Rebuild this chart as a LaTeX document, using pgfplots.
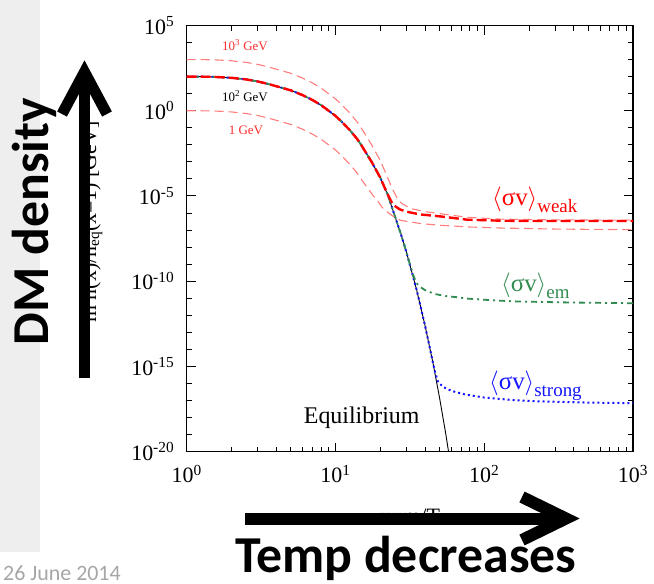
\documentclass[border=0pt]{standalone}
\usepackage{pgfplots}
\pgfplotsset{compat=1.18}
\usepackage{fontspec}
\setmainfont{Liberation Serif}
\newfontfamily\calibri{Carlito}
\definecolor{emgreen}{RGB}{50,140,80}
\definecolor{lightred}{RGB}{255,125,125}
\definecolor{labred}{RGB}{255,45,45}
\definecolor{strongblue}{RGB}{20,20,255}
\newcommand\sv[1]{{\fontsize{25}{25}\selectfont$\langle$σv$\rangle$}{\fontsize{19}{19}\selectfont\raisebox{-7bp}{#1}}}
\begin{document}
\begin{tikzpicture}
\useasboundingbox (0,0) rectangle (654bp,-584bp);
\fill[gray!13] (0,0) rectangle (40bp,-552bp);
\begin{axis}[
  at={(186.7bp,-451.7bp)}, anchor=south west,
  scale only axis, width=446.3bp, height=426.2bp,
  xmode=log, ymode=log, xmin=1, xmax=1000, ymin=1e-20, ymax=1e5,
  axis line style={line width=1.5bp},
  every tick/.style={black, line width=1bp},
  major tick length=9bp, minor tick length=5bp,
  tick align=inside, xtick pos=both, ytick pos=both,
  xticklabel pos=lower, yticklabel pos=left,
  xtick={1,10,100,1000},
  xticklabels={10\textsuperscript{0},10\textsuperscript{1},10\textsuperscript{2},10\textsuperscript{3}},
  minor xtick={2,3,4,5,6,7,8,9,20,30,40,50,60,70,80,90,200,300,400,500,600,700,800,900},
  ytick={1e-20,1e-15,1e-10,1e-5,1,1e5},
  yticklabels={10\textsuperscript{-20},10\textsuperscript{-15},10\textsuperscript{-10},10\textsuperscript{-5},10\textsuperscript{0},10\textsuperscript{5}},
  minor ytick={1e-19,1e-18,1e-17,1e-16,1e-14,1e-13,1e-12,1e-11,1e-9,1e-8,1e-7,1e-6,1e-4,1e-3,1e-2,1e-1,1e1,1e2,1e3,1e4},
  ticklabel style={font=\fontsize{22}{22}\selectfont},
  yticklabel style={xshift=-9bp},
  xticklabel style={yshift=-10bp},
  clip=true,
]
% equilibrium
\addplot[black, line width=0.9bp] coordinates {
(1,100) (1.25,99.5) (1.5,97.7) (1.75,91.2) (2,85.1) (2.5,69.2) (3,52.5) (3.5,38.0) (4,27.5) (5,15.8) (6,8.32) (7,4.27) (8,2.14) (10,0.501) (11,0.229) (12.5,7.24e-2) (14,2.19e-2) (15,8.91e-3) (17.5,1.00e-3) (20,1.20e-4) (22.5,1.12e-5) (25,7.08e-7) (27.5,6.03e-8) (30,5.01e-9) (35,3.55e-11) (40,2.51e-13) (45,2.00e-15) (50,1.58e-17) (55,1.26e-19) (60,1e-21)};
% strong
\addplot[strongblue, line width=2bp, dash pattern=on 2bp off 3bp] coordinates {
(1,100) (1.25,99.5) (1.5,97.7) (1.75,91.2) (2,85.1) (2.5,69.2) (3,52.5) (3.5,38.0) (4,27.5) (5,15.8) (6,8.32) (7,4.27) (8,2.14) (10,0.501) (11,0.229) (12.5,7.24e-2) (14,2.19e-2) (15,8.91e-3) (17.5,1.00e-3) (20,1.20e-4) (22.5,1.12e-5) (25,7.08e-7) (27.5,6.03e-8) (30,5.01e-9) (35,3.55e-11) (40,2.51e-13) (45,2.00e-15) (47,3.8e-16) (49,1.2e-16) (53,6.31e-17) (60,3.72e-17) (75,2.24e-17) (100,1.51e-17) (150,1.10e-17) (217,9.12e-18) (500,7.59e-18) (1000,7.08e-18)};
% em
\addplot[emgreen, line width=1.8bp, dash pattern=on 6bp off 4bp on 2bp off 4bp] coordinates {
(1,100) (1.25,99.5) (1.5,97.7) (1.75,91.2) (2,85.1) (2.5,69.2) (3,52.5) (3.5,38.0) (4,27.5) (5,15.8) (6,8.32) (7,4.27) (8,2.14) (10,0.501) (11,0.229) (12.5,7.24e-2) (14,2.19e-2) (15,8.91e-3) (17.5,1.00e-3) (20,1.20e-4) (22.5,1.12e-5) (25,7.08e-7) (27.5,6.03e-8) (30,5.01e-9) (33,2.82e-10) (35,7.94e-11) (37,4.68e-11) (40,3.02e-11) (46,1.82e-11) (55,1.35e-11) (66,1.15e-11) (77,9.55e-12) (120,7.41e-12) (168,6.46e-12) (400,5.62e-12) (1000,5.13e-12)};
% 1000 GeV
\addplot[lightred, line width=1.1bp, dash pattern=on 9bp off 5bp] coordinates {
(1,1000) (1.25,995) (1.5,977) (1.75,912) (2,851) (2.5,692) (3,525) (3.5,380) (4,275) (5,158) (6,83.2) (7,42.7) (8,21.4) (10,5.01) (11,2.29) (12.5,0.724) (14,0.219) (15,8.91e-2) (17.5,1.00e-2) (20,1.20e-3) (22.5,1.12e-4) (24,2.82e-5) (26,7.59e-6) (28,3.55e-6) (32,1.82e-6) (41.5,1.15e-6) (51,9.12e-7) (77,5.62e-7) (130,4.37e-7) (300,3.98e-7) (1000,3.80e-7)};
% 1 GeV
\addplot[lightred, line width=1.1bp, dash pattern=on 9bp off 5bp] coordinates {
(1,1) (1.25,0.995) (1.5,0.977) (1.75,0.912) (2,0.851) (2.5,0.692) (3,0.525) (3.5,0.380) (4,0.275) (5,0.158) (6,8.32e-2) (7,4.27e-2) (8,2.14e-2) (10,5.01e-3) (11,2.29e-3) (12.5,7.24e-4) (14,2.19e-4) (15,8.91e-5) (16.5,2.82e-5) (18,1.0e-5) (19.1,5.62e-6) (20.5,2.24e-6) (22.3,1.15e-6) (24.5,6.31e-7) (27.4,3.72e-7) (37.4,2.40e-7) (51,1.91e-7) (80,1.51e-7) (130,1.32e-7) (300,1.15e-7) (1000,1.05e-7)};
% weak 100 GeV
\addplot[red, line width=2.4bp, dash pattern=on 10bp off 4bp] coordinates {
(1,100) (1.25,99.5) (1.5,97.7) (1.75,91.2) (2,85.1) (2.5,69.2) (3,52.5) (3.5,38.0) (4,27.5) (5,15.8) (6,8.32) (7,4.27) (8,2.14) (10,0.501) (11,0.229) (12.5,7.24e-2) (14,2.19e-2) (15,8.91e-3) (17.5,1.00e-3) (20,1.20e-4) (22,1.82e-5) (23,8.0e-6) (24,3.98e-6) (25,2.63e-6) (27,1.66e-6) (30,1.20e-6) (37,8.32e-7) (51,6.31e-7) (77,4.07e-7) (130,3.55e-7) (216,3.39e-7) (1000,3.39e-7)};
\end{axis}
\begin{scope}[x=1bp,y=-1bp]
\node[labred, font=\fontsize{13}{13}\selectfont] at (245,45) {10\textsuperscript{3} GeV};
\node[black, font=\fontsize{13}{13}\selectfont] at (245,96) {10\textsuperscript{2} GeV};
\node[labred, font=\fontsize{13}{13}\selectfont] at (246,130) {1 GeV};
\node[red, anchor=base west, inner sep=0] at (492,205) {\sv{weak}};
\node[emgreen, anchor=base west, inner sep=0] at (501,291) {\sv{em}};
\node[strongblue, anchor=base west, inner sep=0] at (489,389) {\sv{strong}};
\node[black, font=\fontsize{24}{24}\selectfont] at (361.7,418) {Equilibrium};
% original axis titles (mostly covered by the arrows)
\node[black, rotate=90, font=\fontsize{22}{22}\selectfont, anchor=base] at (96,222) {m n(x)/n\textsubscript{eq}(x=1) [GeV]};
\node[black, font=\fontsize{22}{22}\selectfont, anchor=base] at (410,523) {x=m/T};
% arrows
\draw[black, line width=11bp] (84.5,378) -- (84.5,80);
\draw[black, line width=11bp, line join=miter] (62,114) -- (84.5,72) -- (107,114);
\draw[black, line width=12bp] (245,518.5) -- (558,518.5);
\draw[black, line width=12bp, line join=miter] (522,497) -- (566,518.5) -- (522,540);
% slide texts
\node[black, rotate=90, anchor=base, font=\calibri\bfseries\fontsize{52}{52}\selectfont] at (48,221.5) {DM density};
\node[black, anchor=base, font=\calibri\bfseries\fontsize{52}{52}\selectfont] at (406,572) {Temp decreases};
\node[gray!70, anchor=base west, inner sep=0, font=\calibri\fontsize{22}{22}\selectfont] at (3,580) {26 June 2014};
\end{scope}
\end{tikzpicture}
\end{document}
